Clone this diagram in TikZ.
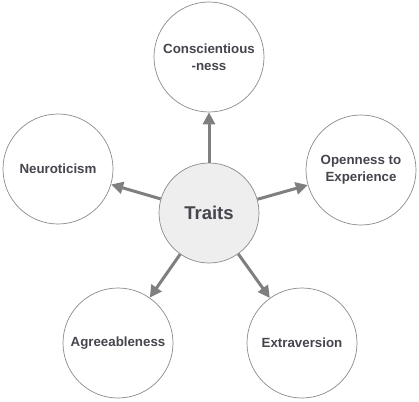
\documentclass[tikz,border=0pt]{standalone}
\usepackage{fontspec}
\setmainfont{Liberation Sans}
\usetikzlibrary{arrows.meta}
\definecolor{rimgray}{HTML}{8A8A8A}
\definecolor{arrowgray}{HTML}{7F7F7F}
\definecolor{textgray}{HTML}{45454D}
\definecolor{hubfill}{HTML}{EEEEEE}
\begin{document}
\begin{tikzpicture}[x=1pt, y=-1pt,
  trait/.style={draw=rimgray, circle, line width=0.7pt, fill=white, minimum size=110pt, inner sep=0pt,
    align=center, text=textgray, font=\fontsize{13.3}{17}\selectfont\bfseries},
  hub/.style={draw=rimgray, circle, line width=0.7pt, fill=hubfill, minimum size=100pt, inner sep=0pt,
    text=textgray, font=\fontsize{18.5}{22}\selectfont\bfseries},
  link/.style={-{Triangle[length=12pt, width=12pt]}, line width=3pt, draw=arrowgray}]
\useasboundingbox (0,0) rectangle (419,401);
% Centre
\node[hub] (traits) at (209,213) {Traits};

% Five factors
\node[trait] (consc) at (209,57) {Conscientious\\-ness};
\node[trait] (neuro) at (58,169) {Neuroticism};
\node[trait] (open) at (361,170) {Openness to\\Experience};
\node[trait] (agree) at (118,343) {Agreeableness};
\node[trait] (extra) at (302,343) {Extraversion};

% Connections
\draw[link] (traits) -- (consc);
\draw[link] (traits) -- (neuro);
\draw[link] (traits) -- (open);
\draw[link] (traits) -- (agree);
\draw[link] (traits) -- (extra);
\end{tikzpicture}
\end{document}
